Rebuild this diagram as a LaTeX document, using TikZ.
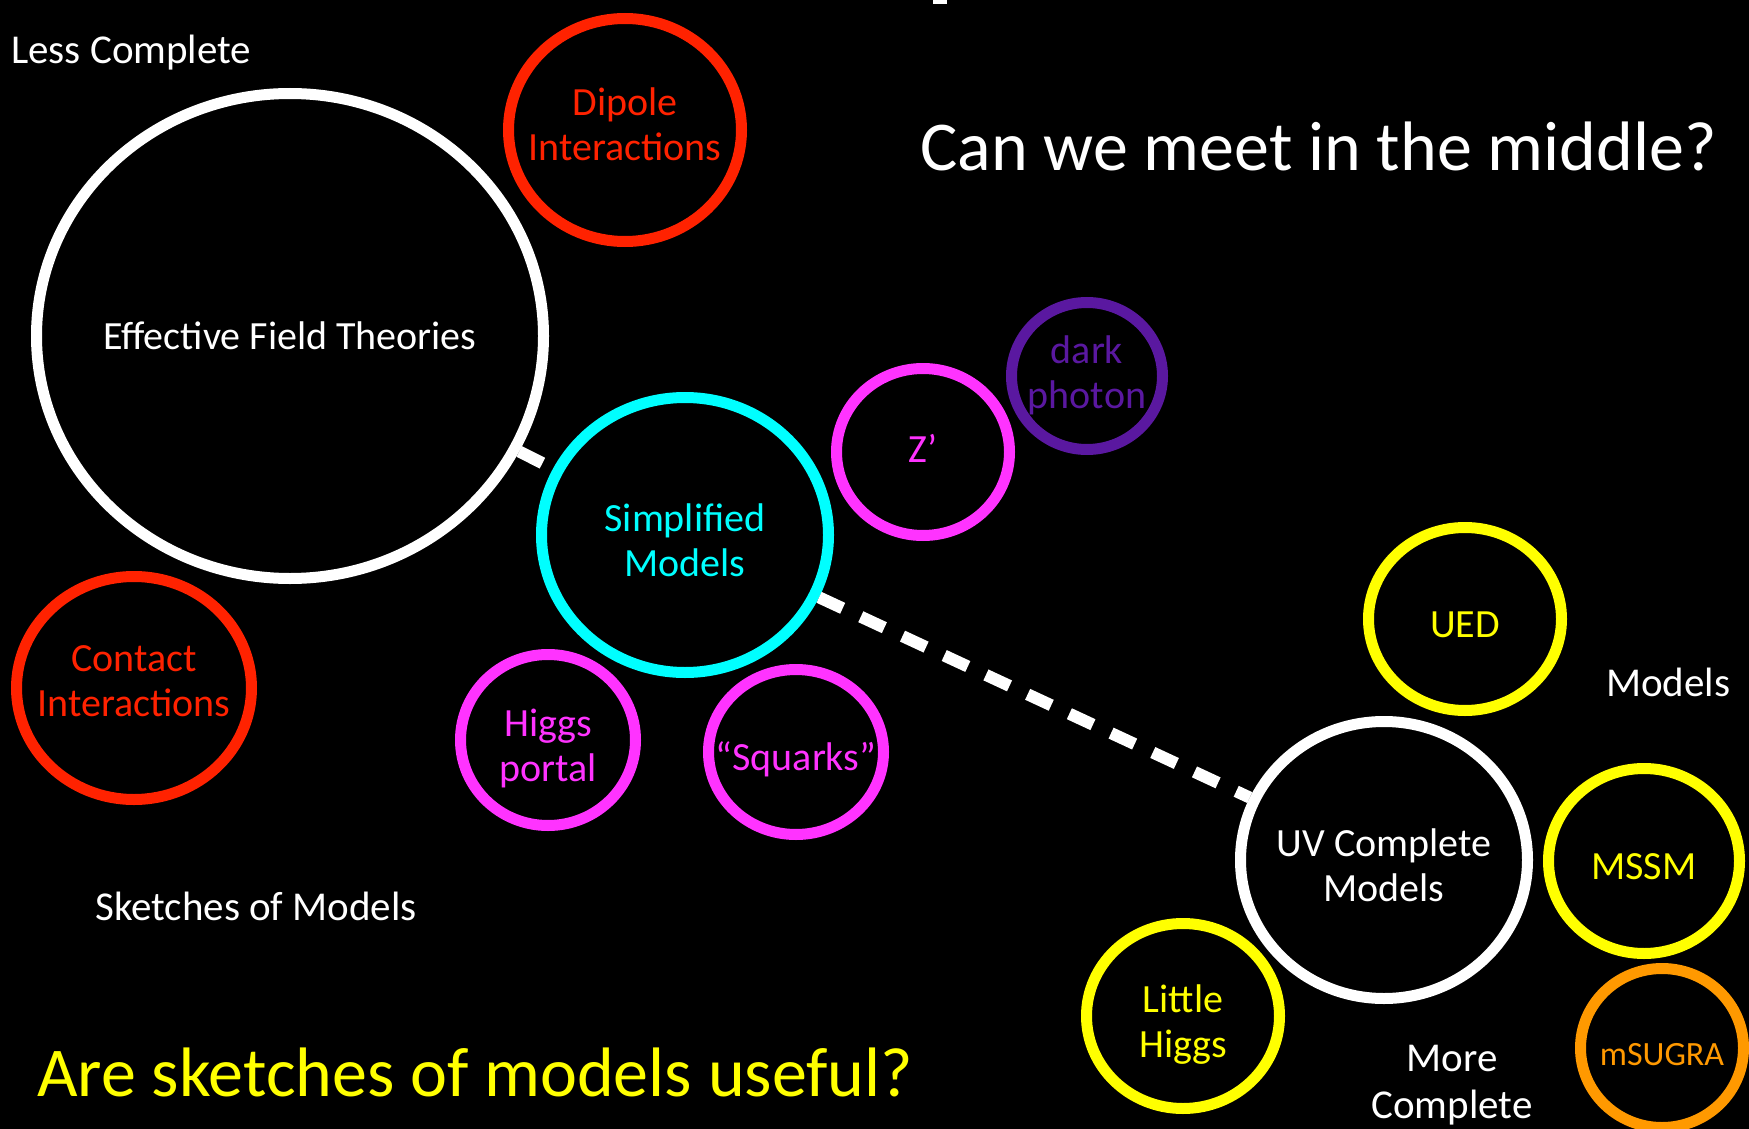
\documentclass[tikz,border=0pt]{standalone}
\usepackage{fontspec}
\setmainfont{Carlito}
\usetikzlibrary{shapes.geometric, positioning}

\definecolor{eftred}{HTML}{FF2200}
\definecolor{simpcyan}{HTML}{00FFFF}
\definecolor{simpmagenta}{HTML}{FF33FF}
\definecolor{darkpurple}{HTML}{5A18A0}
\definecolor{uvyellow}{HTML}{FFFF00}
\definecolor{uvorange}{HTML}{FF9900}

\newcommand{\fsize}[2]{\fontsize{#1pt}{#2pt}\selectfont}
% text that does not widen the bubble
\newcommand{\btext}[2][-16pt]{\raisebox{#1}[0pt][0pt]{\makebox[0pt]{\begin{tabular}{@{}c@{}}#2\end{tabular}}}}

\begin{document}
\begin{tikzpicture}[
    x=1pt, y=-1pt,
    bubble/.style={ellipse, draw, line width=11pt, inner sep=0pt, font=\fsize{40}{45}},
    bsize/.style 2 args={minimum width=#1pt, minimum height=#2pt},
    eft_bubble/.style={bubble, draw=white, text=white},
    red_bubble/.style={bubble, draw=eftred, text=eftred},
    simp_bubble/.style={bubble, draw=simpcyan, text=simpcyan},
    pink_bubble/.style={bubble, draw=simpmagenta, text=simpmagenta},
    purple_bubble/.style={bubble, draw=darkpurple, text=darkpurple},
    uv_bubble/.style={bubble, draw=white, text=white},
    yellow_bubble/.style={bubble, draw=uvyellow, text=uvyellow},
    orange_bubble/.style={bubble, draw=uvorange, text=uvorange},
    link/.style={draw=white, line width=12pt, dash pattern=on 26pt off 20pt},
    caption/.style={inner sep=0pt, text=white, font=\fsize{41}{47}, align=center}
]

% Background
\fill[black] (0,0) rectangle (1749,1129);
\useasboundingbox (0,0) rectangle (1749,1129);
\fill[white] (933,0) rectangle (947,4);

% Less complete side
\node[eft_bubble, bsize={507}{485}] (eft) at (290,336) {\btext[-11pt]{Effective Field Theories}};
\node[red_bubble, bsize={233}{223}] (dipole) at (625,130) {\btext[-5pt]{Dipole\\Interactions}};
\node[red_bubble, bsize={235}{223}] (contact) at (134,688) {\btext[-3pt]{Contact\\Interactions}};

% Simplified models
\node[simp_bubble, bsize={287}{275}] (simplified) at (685,535) {\btext{Simplified\\Models}};
\node[pink_bubble, bsize={173}{167}] (zprime) at (923,452) {\btext[-8pt]{Z’}};
\node[purple_bubble, bsize={151}{147}] (darkphoton) at (1087,376) {\btext[-7pt]{dark\\photon}};
\node[pink_bubble, bsize={175}{171}] (higgsportal) at (548,740) {\btext{Higgs\\portal}};
\node[pink_bubble, bsize={175}{165}] (squarks) at (796,752) {\btext{“Squarks”}};

% More complete side
\node[uv_bubble, bsize={287}{277}] (uv) at (1384,860) {\btext{UV Complete\\Models}};
\node[yellow_bubble, bsize={193}{183}] (ued) at (1465,619) {\btext{UED}};
\node[yellow_bubble, bsize={191}{185}] (mssm) at (1644,861) {\btext{MSSM}};
\node[orange_bubble, bsize={163}{159}, font=\fsize{34}{40}] (msugra) at (1662,1048) {\btext{mSUGRA}};
\node[yellow_bubble, bsize={193}{185}] (littlehiggs) at (1183,1016) {\btext{Little\\Higgs}};

% Connections
\draw[link] (eft) -- (simplified);
\draw[link] (simplified) -- (uv);

% Labels
\node[caption, anchor=base west] (lesscomplete) at (11,64) {Less Complete};
\node[caption, anchor=base west] (sketches) at (95,920) {Sketches of Models};
\node[caption, anchor=base west] (models) at (1606,696) {Models};
\node[caption, anchor=base] (morecomplete) at (1452,1118) {More\\Complete};
\node[caption, anchor=base west, font=\fsize{70}{78}] (meet) at (920,171) {Can we meet in the middle?};
\node[caption, anchor=base west, text=uvyellow, font=\fsize{70}{78}] (useful) at (37,1096) {Are sketches of models useful?};

\end{tikzpicture}
\end{document}
